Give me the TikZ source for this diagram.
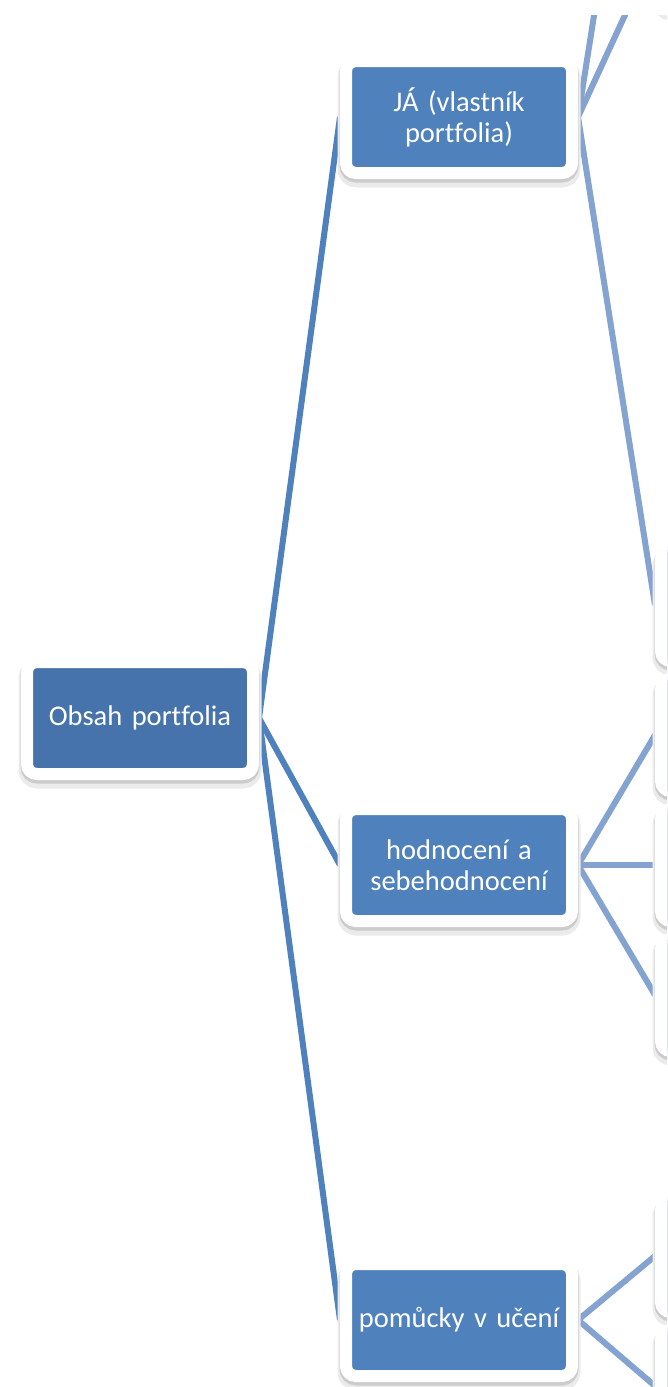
\documentclass[tikz,border=0pt]{standalone}
\usepackage{fontspec}
\setmainfont{Carlito}[Ligatures=NoCommon]
\pgfdeclarelayer{bg}
\pgfsetlayers{bg,main}
\definecolor{accent}{HTML}{4F81BD}
\definecolor{rootblue}{HTML}{4673AB}
\definecolor{linkblue}{HTML}{84A3D0}
\tikzset{
  card/.style={rectangle, rounded corners=10pt, draw=white, line width=12pt, fill=accent,
    minimum width=226pt, minimum height=112pt, text=white, align=center, text width=205pt,
    font=\fontsize{28.5}{31}\selectfont,
    preaction={draw=black!8, fill=black!8, line width=17pt, transform canvas={yshift=-6pt}},
    preaction={draw=black!20, fill=black!20, line width=13pt, transform canvas={yshift=-3pt}}},
  edge/.style={draw=accent, line width=6pt},
  subedge/.style={draw=linkblue, line width=6pt}
}
\begin{document}
\begin{tikzpicture}[x={(1pt,0pt)}, y={(0pt,-1pt)}]
\useasboundingbox (0,0) rectangle (667,1387);
\clip (0,15) rectangle (667,1387);
\node[card, fill=rootblue] (root) at (140,718) {Obsah portfolia};
\node[card] (ja) at (459,117) {JÁ (vlastník\\portfolia)};
\node[card] (hod) at (459,865) {hodnocení a\\sebehodnocení};
\node[card] (pom) at (459,1320) {pomůcky v učení};
\node[card] (r1) at (774,-50) {};
\node[card] (r2) at (774,605) {};
\node[card] (r3) at (774,735) {};
\node[card] (r4) at (774,865) {};
\node[card] (r5) at (774,995) {};
\node[card] (r6) at (774,1256) {};
\node[card] (r7) at (774,1386) {};
\coordinate (up0) at (655,-371);
\begin{pgfonlayer}{bg}
\clip (0,15) rectangle (667,1387);
\draw[edge] (root.east) -- (ja.west);
\draw[edge] (root.east) -- (hod.west);
\draw[edge] (root.east) -- (pom.west);
\draw[subedge] (ja.east) -- (up0);
\draw[subedge] (ja.east) -- (r1.west);
\draw[subedge] (ja.east) -- (r2.west);
\draw[subedge] (hod.east) -- (r3.west);
\draw[subedge] (hod.east) -- (r4.west);
\draw[subedge] (hod.east) -- (r5.west);
\draw[subedge] (pom.east) -- (r6.west);
\draw[subedge] (pom.east) -- (r7.west);
\end{pgfonlayer}
\end{tikzpicture}
\end{document}
